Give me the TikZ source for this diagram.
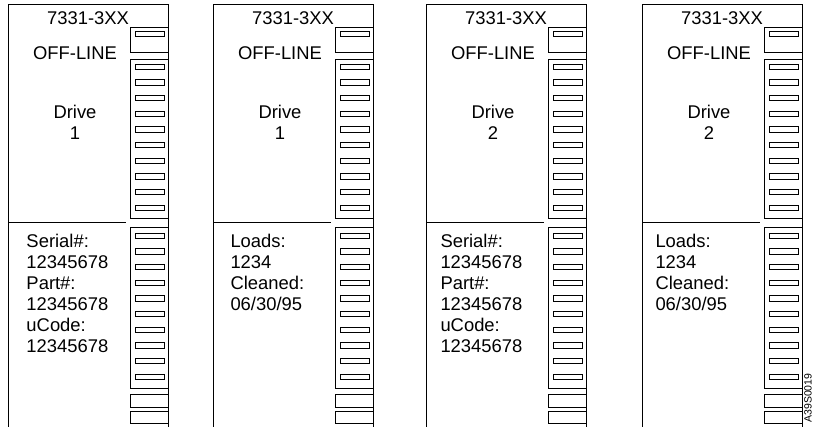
\documentclass[tikz,border=0pt]{standalone}
\usepackage{fontspec}
\setmainfont{Liberation Sans}

\newcommand{\serialtext}{Serial\#:\\12345678\\Part\#:\\12345678\\uCode:\\12345678}
\newcommand{\loadstext}{Loads:\\1234\\Cleaned:\\06/30/95}

\begin{document}
\begin{tikzpicture}[x=1pt,y=-1pt,line width=1pt]
  \tikzstyle{label}=[inner sep=0pt,font=\fontsize{18.4}{21}\selectfont]
  \tikzstyle{slot}=[draw,line width=0.8pt]
  \useasboundingbox (0,0) rectangle (825,427);
  \foreach \p/\L/\tx/\drv/\info/\nl in {1/8/18/1/\serialtext/6,2/213/17/1/\loadstext/4,3/426/14/2/\serialtext/6,4/642/13/2/\loadstext/4}{
    \begin{scope}[xshift=\L pt]
      \draw (0,427) |- (160,5) -- (160,427);
      \draw (0,223) -- (118,223);
      \draw (122.5,28) rectangle (160,53);
      \draw (122.5,60) rectangle (160,219);
      \draw (122.5,228) rectangle (160,389);
      \draw (122.5,395) rectangle (160,408);
      \draw (122.5,412) rectangle (160,424);
      \draw[slot] (127,31) rectangle (156,36);
      \foreach \i in {0,...,9}{
        \draw[slot] (127,64+15.67*\i) rectangle (156,69.5+15.67*\i);
        \draw[slot] (127,233+15.67*\i) rectangle (156,238.5+15.67*\i);
      }
      \node[label,anchor=base] (model\p) at (80,25) {7331-3XX};
      \node[label,anchor=base] (status\p) at (67,60) {OFF-LINE};
      \node[label,anchor=base,align=center] (drive\p) at (67,140) {Drive\\\drv};
      \node[label,anchor=base west,align=left] (info\p) at (\tx,{248+21*(\nl-1)}) {\info};
    \end{scope}
  }
  \node[inner sep=0pt,font=\fontsize{10.5}{12}\selectfont,rotate=90] (figid) at (808,398) {A39S0019};
\end{tikzpicture}
\end{document}
